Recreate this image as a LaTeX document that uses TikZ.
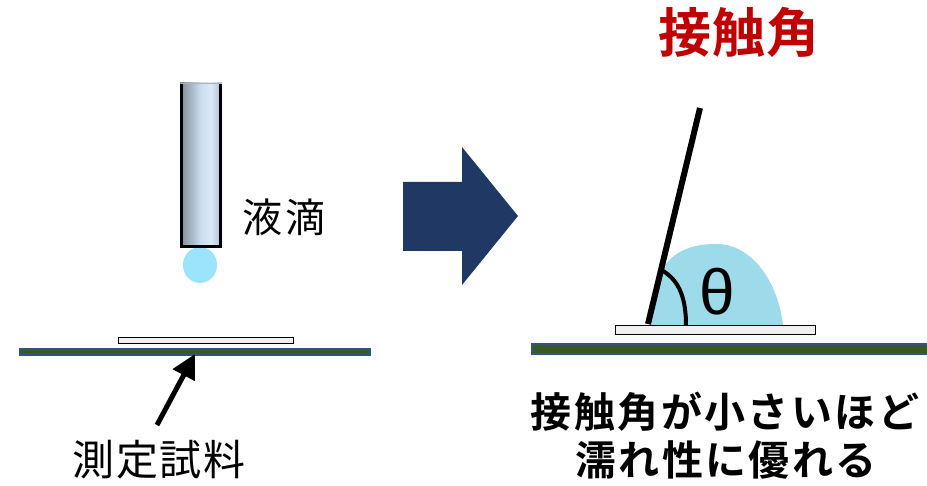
\documentclass[tikz,border=0pt]{standalone}
\usepackage{fontspec}
\usetikzlibrary{arrows.meta}
\newfontfamily\jp{Noto Sans CJK JP}
\newfontfamily\jpbold{Noto Sans CJK JP Bold}
\newfontfamily\greek{Liberation Sans}
\definecolor{plateblue}{HTML}{2F5783}
\definecolor{plategreen}{HTML}{3A5926}
\definecolor{slidegray}{HTML}{F0F0F0}
\definecolor{dropblue}{HTML}{9BE4FB}
\definecolor{wetblue}{HTML}{9DDAEA}
\definecolor{navy}{HTML}{203864}
\definecolor{titlered}{HTML}{C00000}
\pgfdeclarehorizontalshading{needle}{100bp}{
  rgb(0bp)=(0.18,0.18,0.18);
  rgb(25bp)=(0.50,0.54,0.58);
  rgb(50bp)=(0.80,0.87,0.94);
  rgb(62bp)=(0.86,0.91,0.97);
  rgb(80bp)=(0.62,0.66,0.72);
  rgb(100bp)=(0.20,0.20,0.20)}
\newcommand\jpsized[3]{{\fontsize{#1}{#1}\selectfont\addfontfeature{LetterSpace=#2}#3}}
\tikzset{
  slide/.style={fill=slidegray, draw=black, line width=0.8pt},
  plate/.style={fill=plategreen, draw=plateblue, line width=2.4pt},
  label/.style={inner sep=0pt, anchor=center},
}
\begin{document}
\begin{tikzpicture}[x=1pt, y=-1pt]
\useasboundingbox (0,0) rectangle (927,486);

% ---- left: needle dispensing a droplet above the sample
\fill[dropblue] (200,265) ellipse [x radius=17, y radius=18];
\shade[shading=needle] (180,83) rectangle (222,248);
\draw[black, line width=3pt] (181.5,84) -- (181.5,246.5) -- (220.5,246.5) -- (220.5,84);
\draw[gray!60, line width=0.8pt] (181,83.4) -- (221,83.4);
\node[label] (drop) at (284,217) {\jp\jpsized{40}{6}{液滴}};

\draw[slide] (118,337) rectangle (293,343);
\draw[plate] (20,349) rectangle (370,355);

\coordinate (ptip) at (195,354);
\coordinate (ptail) at (157,425);
\draw[line width=5pt, -{Triangle[length=24pt, width=24pt]}] (ptail) -- (ptip);
\node[label] (sample) at (159,460) {\jp\jpsized{42}{4}{測定試料}};

% ---- block arrow
\fill[navy] (403,182) -- (462,182) -- (462,147) -- (518,216) -- (462,285)
  -- (462,251) -- (403,251) -- cycle;

% ---- right: sessile drop and contact angle
\draw[plate] (532,344) rectangle (930,354);
\fill[wetblue] (649,325) -- (663,268) .. controls (676,248) and (697,244) .. (717,244)
  .. controls (748,244) and (777,276) .. (783,325) -- cycle;
\draw[slide] (615,325) rectangle (815,334);
\coordinate (foot) at (648,324);
\coordinate (top) at (700,108);
\draw[line width=6pt] (foot) -- (top);
\draw[line width=4pt] (663,271) .. controls (680,281) and (686,300) .. (686,325);
\node[label] (theta) at (717,292) {\greek\fontsize{64}{64}\selectfont θ};

\node[label] (title) at (739,32) {\jpbold\color{titlered}\jpsized{53}{1}{接触角}};
\node[label] (line1) at (725,412) {\jpbold\jpsized{41}{6}{接触角が小さいほど}};
\node[label] (line2) at (726,460) {\jpbold\jpsized{41}{6}{濡れ性に優れる}};
\end{tikzpicture}
\end{document}
